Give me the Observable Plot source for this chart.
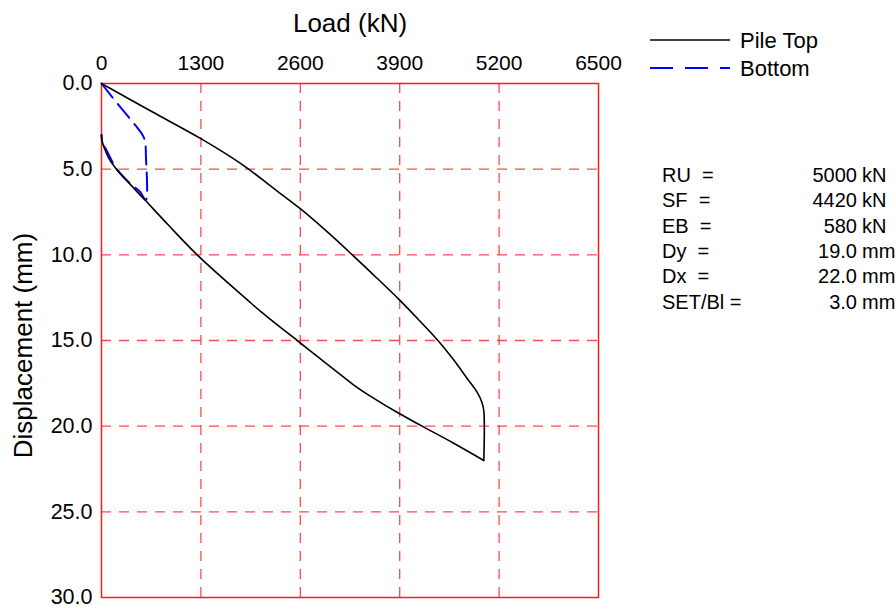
<!DOCTYPE html>
<html>
<head>
<meta charset="utf-8">
<script src="https://cdn.jsdelivr.net/npm/d3@7"></script>
<script src="https://cdn.jsdelivr.net/npm/@observablehq/plot@0.6"></script>
<style>
  html, body { margin: 0; padding: 0; background: #fff; }
  #chart { width: 896px; height: 610px; }
</style>
</head>
<body>
<div id="chart"></div>
<script>
// Load axis ticks (kN) and displacement ticks (mm)
const xTicks = [0, 1300, 2600, 3900, 5200, 6500];
const yTicks = [0, 5, 10, 15, 20, 25, 30];

// Pile top curve (load kN, displacement mm): loading branch (incl. hold)
const topLoadUp = [0, 650, 1300, 1860, 2230, 2600, 2950, 3280, 3600, 3890, 4150, 4400, 4600, 4780, 4910, 4975, 5000, 5000];
const topDispUp = [0, 1.62, 3.22, 4.79, 6.05, 7.31, 8.65, 10, 11.35, 12.6, 13.8, 15.0, 16.1, 17.2, 18.0, 18.6, 19.1, 22];
// Pile top curve: unloading branch
const topLoadDown = [5000, 4600, 4194, 3888, 3500, 3300, 3100, 2830, 2559, 2080, 1900, 1251, 859, 575, 370, 196, 100, 40, 10, 0];
const topDispDown = [22, 20.98, 20, 19.25, 18.2, 17.6, 16.9, 15.95, 15, 13.3, 12.6, 10, 8.19, 6.83, 5.86, 5.0, 4.4, 3.8, 3.4, 3.0];

// Pile bottom curve
const bottomLoad = [0, 250, 445, 530, 565, 578, 580, 580, 500, 370, 196, 65, 10, 0];
const bottomDisp = [0, 1.4, 2.45, 2.95, 3.3, 3.7, 4.1, 6.8, 6.3, 5.82, 4.97, 3.9, 3.4, 3.0];

// Legend and summary text
const seriesNames = ["Pile Top", "Bottom"];
const statLabels = ["RU  =", "SF  =", "EB  =", "Dy  =", "Dx  =", "SET/Bl ="];
const statValues = ["5000", "4420", "580", "19.0", "22.0", "3.0"];
const statUnits = ["kN", "kN", "kN", "mm", "mm", "mm"];

const topUp = topLoadUp.map((l, i) => ({load: l, disp: topDispUp[i]}));
const topDown = topLoadDown.map((l, i) => ({load: l, disp: topDispDown[i]}));
const bottomData = bottomLoad.map((l, i) => ({load: l, disp: bottomDisp[i]}));

const FONT = "'Liberation Sans', Arial, sans-serif";

const chart = Plot.plot({
  width: 896,
  height: 610,
  marginLeft: 101,
  marginRight: 298,
  marginTop: 83,
  marginBottom: 13,
  style: {fontFamily: FONT, fontSize: "21px", background: "#fff", color: "#000", overflow: "visible"},
  x: {domain: [0, 6500]},
  y: {domain: [0, 30], reverse: true},
  marks: [
    Plot.gridX(xTicks.slice(1, -1), {stroke: "#ff2a2a", strokeOpacity: 0.85, strokeWidth: 1.3, strokeDasharray: "10,8"}),
    Plot.gridY(yTicks.slice(1, -1), {stroke: "#ff2a2a", strokeOpacity: 0.85, strokeWidth: 1.3, strokeDasharray: "10,8"}),
    Plot.frame({stroke: "#ff1a1a", strokeWidth: 1.5}),
    Plot.line(bottomData, {x: "load", y: "disp", stroke: "#0000ff", strokeWidth: 2, strokeDasharray: "18,8", curve: "catmull-rom"}),
    Plot.line(topUp, {x: "load", y: "disp", stroke: "#000", strokeWidth: 1.6, curve: "catmull-rom"}),
    Plot.line(topDown, {x: "load", y: "disp", stroke: "#000", strokeWidth: 1.6, curve: "catmull-rom"}),
    Plot.axisX({anchor: "top", ticks: xTicks, tickSize: 0, tickPadding: 14, fontSize: 21, tickFormat: d => String(d), label: null}),
    Plot.axisY({anchor: "left", ticks: yTicks, tickSize: 0, tickPadding: 9, fontSize: 21.5, tickFormat: d => d.toFixed(1), label: null}),
    Plot.text(["Load (kN)"], {frameAnchor: "top", dy: -60, lineAnchor: "middle", textAnchor: "middle", fontSize: 26, fill: "#000"}),
    Plot.text(["Displacement (mm)"], {frameAnchor: "left", dx: -78, dy: 5, rotate: -90, textAnchor: "middle", lineAnchor: "middle", fontSize: 26, fill: "#000"})
  ]
});

document.getElementById("chart").appendChild(chart);

// Legend and summary block (outside the plot frame)
const svg = d3.select(chart);
const g = svg.append("g").attr("font-family", FONT).attr("fill", "#000").attr("text-anchor", "start");
const legendStyles = [
  {stroke: "#000", dash: null, width: 1.6},
  {stroke: "#0000ff", dash: "23,12", width: 2}
];
seriesNames.forEach((name, i) => {
  const y = 40 + i * 28;
  g.append("line").attr("x1", 650).attr("x2", 730).attr("y1", y).attr("y2", y)
    .attr("stroke", legendStyles[i].stroke).attr("stroke-width", legendStyles[i].width)
    .attr("stroke-dasharray", legendStyles[i].dash);
  g.append("text").attr("x", 740).attr("y", y).attr("dy", "0.35em").attr("text-anchor", "start")
    .attr("font-size", 22).text(name);
});
statLabels.forEach((lab, i) => {
  const y = 175 + i * 25.3;
  g.append("text").attr("x", 662).attr("y", y).attr("dy", "0.35em").attr("text-anchor", "start")
    .attr("font-size", 20).attr("xml:space", "preserve").style("white-space", "pre").text(lab);
  g.append("text").attr("x", 857).attr("y", y).attr("dy", "0.35em")
    .attr("font-size", 20).attr("text-anchor", "end").text(statValues[i]);
  g.append("text").attr("x", 862).attr("y", y).attr("dy", "0.35em").attr("text-anchor", "start")
    .attr("font-size", 20).text(statUnits[i]);
});
</script>
</body>
</html>
